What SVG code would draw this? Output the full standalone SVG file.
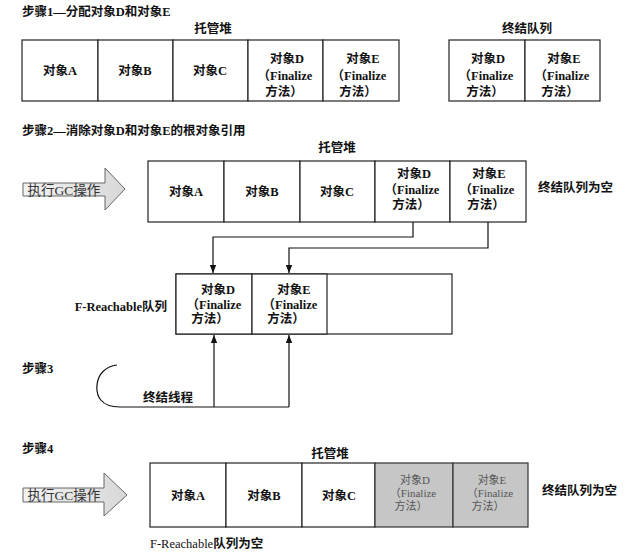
<svg xmlns="http://www.w3.org/2000/svg" width="643" height="553" viewBox="0 0 643 553">
<defs>
<style>
text{font-family:"Liberation Serif","Noto Sans CJK SC",serif;font-size:12.5px;fill:#111;font-weight:bold}
.c{text-anchor:middle}
.n{font-weight:normal}
.cell{fill:#fff;stroke:#222;stroke-width:1.2}
.gray{fill:#c6c6c6;stroke:#333;stroke-width:1.2}
.gt{fill:#555;font-weight:normal;font-size:11px}
.ln{fill:none;stroke:#111;stroke-width:1.2}
.arr{stroke:#666;stroke-width:1}
.at{fill:#333;font-weight:normal;font-size:13.5px}
</style>
<linearGradient id="ag" x1="0" y1="0" x2="1" y2="0">
<stop offset="0" stop-color="#f2f2f2"/>
<stop offset="1" stop-color="#d8d8d8"/>
</linearGradient>
<marker id="ah" viewBox="0 0 10 10" refX="10" refY="5" markerWidth="7" markerHeight="7" orient="auto">
<path d="M0,1 L10,5 L0,9 Z" fill="#111"/>
</marker>
</defs>

<rect width="643" height="553" fill="#fff"/>

<!-- Step 1 -->
<g id="step1">
<text x="22" y="16">步骤1—分配对象D和对象E</text>
<text class="c" x="213" y="33">托管堆</text>
<text class="c" x="527" y="33">终结队列</text>
</g>
<g id="s1-heap-A"><rect class="cell" x="22" y="40" width="76" height="61"/><text class="c" x="60" y="75">对象A</text></g>
<g id="s1-heap-B"><rect class="cell" x="98" y="40" width="75" height="61"/><text class="c" x="135" y="75">对象B</text></g>
<g id="s1-heap-C"><rect class="cell" x="173" y="40" width="75" height="61"/><text class="c" x="210" y="75">对象C</text></g>
<g id="s1-heap-D"><rect class="cell" x="248" y="40" width="75" height="61"/><text class="c" x="287" y="63">对象D</text><text class="c" x="285" y="80">（Finalize</text><text class="c" x="284" y="96">方法）</text></g>
<g id="s1-heap-E"><rect class="cell" x="323" y="40" width="76" height="61"/><text class="c" x="363" y="63">对象E</text><text class="c" x="359" y="80">（Finalize</text><text class="c" x="358" y="96">方法）</text></g>
<g id="s1-fq-D"><rect class="cell" x="449" y="40" width="76" height="61"/><text class="c" x="488" y="63">对象D</text><text class="c" x="486" y="80">（Finalize</text><text class="c" x="485" y="96">方法）</text></g>
<g id="s1-fq-E"><rect class="cell" x="525" y="40" width="75" height="61"/><text class="c" x="564" y="63">对象E</text><text class="c" x="562" y="80">（Finalize</text><text class="c" x="560" y="96">方法）</text></g>

<!-- Step 2 -->
<g id="step2">
<text x="22" y="135">步骤2—消除对象D和对象E的根对象引用</text>
<text class="c" x="337" y="152">托管堆</text>
<text x="538" y="192">终结队列为空</text>
</g>
<g id="s2-gc">
<path class="arr" d="M23,183 H105 V168 L125,189 L105,210 V196 H23 Z" fill="url(#ag)"/>
<text class="at" x="64" y="195" text-anchor="middle">执行GC操作</text>
</g>
<g id="s2-heap-A"><rect class="cell" x="148" y="161" width="76" height="61"/><text class="c" x="186" y="196">对象A</text></g>
<g id="s2-heap-B"><rect class="cell" x="224" y="161" width="76" height="61"/><text class="c" x="262" y="196">对象B</text></g>
<g id="s2-heap-C"><rect class="cell" x="300" y="161" width="75" height="61"/><text class="c" x="337" y="196">对象C</text></g>
<g id="s2-heap-D"><rect class="cell" x="375" y="161" width="75" height="61"/><text class="c" x="414" y="178">对象D</text><text class="c" x="412" y="194">（Finalize</text><text class="c" x="411" y="209">方法）</text></g>
<g id="s2-heap-E"><rect class="cell" x="450" y="161" width="76" height="61"/><text class="c" x="489" y="178">对象E</text><text class="c" x="487" y="194">（Finalize</text><text class="c" x="486" y="209">方法）</text></g>

<g id="freach">
<text x="167" y="311" text-anchor="end">F-Reachable队列</text>
<rect class="cell" x="176" y="274" width="276" height="60"/>
</g>
<g id="fr-D"><rect class="cell" x="176" y="274" width="76" height="60"/><text class="c" x="218" y="294">对象D</text><text class="c" x="214" y="309">（Finalize</text><text class="c" x="210" y="323">方法）</text></g>
<g id="fr-E"><rect class="cell" x="252" y="274" width="75" height="60"/><text class="c" x="294" y="294">对象E</text><text class="c" x="290" y="309">（Finalize</text><text class="c" x="286" y="323">方法）</text></g>

<!-- Step 3 -->
<g id="step3">
<text x="22" y="373">步骤3</text>
<text x="143" y="402">终结线程</text>
</g>

<g id="connectors">
<path class="ln" d="M413,222 V237 H213 V273" marker-end="url(#ah)"/>
<path class="ln" d="M488,222 V248 H289 V273" marker-end="url(#ah)"/>
<path class="ln" d="M214,407 V335" marker-end="url(#ah)"/>
<path class="ln" d="M289,407 V335" marker-end="url(#ah)"/>
<path class="ln" d="M289,407 H120 C100,407 96,395 97,385 C98,374 106,366 117,365"/>
</g>

<!-- Step 4 -->
<g id="step4">
<text x="22" y="453">步骤4</text>
<text class="c" x="330" y="458">托管堆</text>
<text x="542" y="495">终结队列为空</text>
<text class="n" x="150" y="548">F-Reachable<tspan font-weight="bold">队列为空</tspan></text>
</g>
<g id="s4-gc">
<path class="arr" d="M23,488 H104 V473 L127,495 L104,516 V502 H23 Z" fill="url(#ag)"/>
<text class="at" x="64" y="500" text-anchor="middle">执行GC操作</text>
</g>
<g id="s4-heap-A"><rect class="cell" x="150" y="463" width="76" height="64"/><text class="c" x="188" y="500">对象A</text></g>
<g id="s4-heap-B"><rect class="cell" x="226" y="463" width="76" height="64"/><text class="c" x="264" y="500">对象B</text></g>
<g id="s4-heap-C"><rect class="cell" x="302" y="463" width="73" height="64"/><text class="c" x="339" y="500">对象C</text></g>
<g id="s4-heap-D"><rect class="gray" x="375" y="463" width="78" height="64"/><text class="c gt" x="415" y="484">对象D</text><text class="c gt" x="413" y="497">（Finalize</text><text class="c gt" x="411" y="510">方法）</text></g>
<g id="s4-heap-E"><rect class="gray" x="453" y="463" width="75" height="64"/><text class="c gt" x="492" y="484">对象E</text><text class="c gt" x="490" y="497">（Finalize</text><text class="c gt" x="488" y="510">方法）</text></g>
</svg>
